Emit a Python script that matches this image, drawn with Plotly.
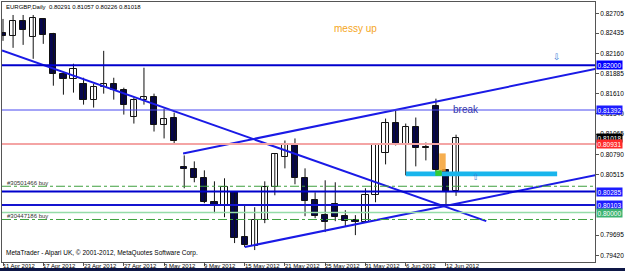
import plotly.graph_objects as go

# ---------------- data ----------------
bar_idx = list(range(46))
opens = [0.82439, 0.82398, 0.82601, 0.82385, 0.82628, 0.82425, 0.81884, 0.81817, 0.81749, 0.81533,
         0.81709, 0.81749, 0.81668, 0.81303, 0.81533, 0.81573, 0.81195, 0.81290, 0.80614, 0.80586,
         0.80465, 0.80140, 0.80086, 0.80275, 0.79667, 0.79545, 0.79897, 0.80343, 0.80749, 0.80911,
         0.80465, 0.80167, 0.79965, 0.80113, 0.79951, 0.79897, 0.79870, 0.80235, 0.80803, 0.81222,
         0.80924, 0.81168, 0.80884, 0.81452, 0.80573, 0.80291]
highs = [0.82628, 0.82682, 0.82682, 0.82682, 0.82641, 0.82439, 0.81890, 0.82020, 0.81830, 0.81749,
         0.82195, 0.81830, 0.81695, 0.81560, 0.81966, 0.81614, 0.81411, 0.81357, 0.80776, 0.80695,
         0.80573, 0.80424, 0.80465, 0.80289, 0.80113, 0.80073, 0.80424, 0.80795, 0.80978, 0.81006,
         0.80600, 0.80275, 0.80438, 0.80411, 0.80032, 0.79965, 0.80330, 0.80924, 0.81276, 0.81384,
         0.81208, 0.81290, 0.80951, 0.81546, 0.80580, 0.81057]
lows = [0.82331, 0.82236, 0.82276, 0.82087, 0.82290, 0.81722, 0.81600, 0.81628, 0.81465, 0.81425,
        0.81614, 0.81533, 0.81330, 0.81208, 0.81465, 0.81100, 0.81006, 0.80924, 0.80330, 0.80411,
        0.80127, 0.79992, 0.79937, 0.79586, 0.79532, 0.79491, 0.79856, 0.80235, 0.80600, 0.80384,
        0.79951, 0.79924, 0.79735, 0.79883, 0.79816, 0.79694, 0.79860, 0.80140, 0.80654, 0.80911,
        0.80505, 0.80627, 0.80708, 0.80505, 0.80086, 0.80226]
closes = [0.82398, 0.82601, 0.82479, 0.82641, 0.82412, 0.81884, 0.81817, 0.81952, 0.81533, 0.81709,
          0.81749, 0.81668, 0.81465, 0.81533, 0.81573, 0.81195, 0.81276, 0.80978, 0.80586, 0.80465,
          0.80140, 0.80086, 0.80343, 0.79654, 0.79559, 0.79897, 0.80343, 0.80789, 0.80911, 0.80465,
          0.80154, 0.79951, 0.79870, 0.79937, 0.79883, 0.79870, 0.80235, 0.80911, 0.81222, 0.80924,
          0.81168, 0.80870, 0.80870, 0.80573, 0.80275, 0.81018]

date_idx = [0, 4, 8, 12, 16, 20, 24, 28, 32, 36, 40, 44]
date_labels = ["11 Apr 2012", "17 Apr 2012", "23 Apr 2012", "27 Apr 2012", "3 May 2012", "9 May 2012",
               "15 May 2012", "21 May 2012", "25 May 2012", "31 May 2012", "6 Jun 2012", "12 Jun 2012"]

price_ticks = [0.82705, 0.82435, 0.82160, 0.81885, 0.81610, 0.81340, 0.81065, 0.80790,
               0.80515, 0.79695, 0.79420]

# horizontal levels: (price, color, width, dash)
hlines_price = [0.82000, 0.81392, 0.80931, 0.80285, 0.80103, 0.80000, 0.80357, 0.79906]
hlines_color = ["#0000cc", "#4848f0", "#f4a4a4", "#0000cc", "#1414d0", "#94dca8", "#3fa03f", "#3fa03f"]
hlines_width = [2, 1, 2, 2, 2, 1.5, 1, 1]
hlines_dash = ["solid", "solid", "solid", "solid", "solid", "solid", "dashdot", "dashdot"]

# price boxes on the right axis
box_price = [0.82000, 0.81392, 0.81018, 0.80931, 0.80285, 0.80103, 0.80000]
box_color = ["#0000ff", "#1c1cff", "#000000", "#ff2a2a", "#1c1cff", "#1c1cff", "#3cb371"]

# trend lines (bar index, price)
down_x = [-0.1, 48.0]
down_y = [0.82199, 0.79883]
chan_up_x = [17.89, 60.0]
chan_up_y = [0.80803, 0.81982]
chan_lo_x = [24.01, 60.0]
chan_lo_y = [0.79532, 0.80540]

# ---------------- figure ----------------
fig = go.Figure()

wx, wy = [], []
for i, h, l in zip(bar_idx, highs, lows):
    wx += [i, i, None]
    wy += [l, h, None]
fig.add_trace(go.Scatter(x=wx, y=wy, mode="lines", line=dict(color="#111111", width=1),
                         hoverinfo="skip", showlegend=False))

MIN_H = 0.00003
up_x = [i for i, o, c in zip(bar_idx, opens, closes) if c > o]
up_b = [o for o, c in zip(opens, closes) if c > o]
up_h = [max(c - o, MIN_H) for o, c in zip(opens, closes) if c > o]
dn_x = [i for i, o, c in zip(bar_idx, opens, closes) if c <= o]
dn_b = [c for o, c in zip(opens, closes) if c <= o]
dn_h = [max(o - c, MIN_H) for o, c in zip(opens, closes) if c <= o]

fig.add_trace(go.Bar(x=up_x, y=up_h, base=up_b, width=0.62,
                     marker=dict(color="#ffffff", line=dict(color="#111111", width=1)),
                     showlegend=False))
fig.add_trace(go.Bar(x=dn_x, y=dn_h, base=dn_b, width=0.62,
                     marker=dict(color="#05054e", line=dict(color="#111111", width=1)),
                     showlegend=False))

for tx, ty in [(down_x, down_y), (chan_up_x, chan_up_y), (chan_lo_x, chan_lo_y)]:
    fig.add_trace(go.Scatter(x=tx, y=ty, mode="lines", line=dict(color="#1a1ae6", width=2),
                             hoverinfo="skip", showlegend=False))

shapes = []
for p, c, w, d in zip(hlines_price, hlines_color, hlines_width, hlines_dash):
    shapes.append(dict(type="line", xref="paper", yref="y", x0=0, x1=1, y0=p, y1=p,
                       line=dict(color=c, width=w, dash=d)))
# cyan zone, orange box, green marker
shapes.append(dict(type="rect", xref="x", yref="y", x0=40.02, x1=55.04, y0=0.80492, y1=0.80559,
                   line=dict(width=0), fillcolor="#19b5ec"))
shapes.append(dict(type="rect", xref="x", yref="y", x0=43.33, x1=43.97, y0=0.80559, y1=0.80803,
                   line=dict(width=0), fillcolor="#f5a030", opacity=0.85))
shapes.append(dict(type="rect", xref="x", yref="y", x0=42.94, x1=43.58, y0=0.80498, y1=0.80573,
                   line=dict(width=0), fillcolor="#33cc33"))
# bottom dark strip
shapes.append(dict(type="rect", xref="paper", yref="paper", x0=-0.01, x1=1.06, y0=-0.036, y1=-0.023,
                   line=dict(width=0), fillcolor="#0e1746", layer="above"))

ann = []
FONT = "Liberation Sans"
ann.append(dict(xref="paper", yref="paper", x=0.0034, y=0.981, xanchor="left", yanchor="middle",
                text="EURGBP,Daily  0.80291 0.81057 0.80226 0.81018", showarrow=False,
                font=dict(family=FONT, size=6, color="#000000")))
ann.append(dict(xref="paper", yref="paper", x=0.0034, y=0.0345, xanchor="left", yanchor="middle",
                text="MetaTrader - Alpari UK, © 2001-2012, MetaQuotes Software Corp.", showarrow=False,
                font=dict(family=FONT, size=6.5, color="#000000")))
for i, t in zip(date_idx, date_labels):
    ann.append(dict(xref="x", yref="paper", x=i, y=-0.0153, xanchor="left", yanchor="middle",
                    xshift=-2, text=t, showarrow=False, font=dict(family=FONT, size=6, color="#000000")))
for p, c in zip(box_price, box_color):
    ann.append(dict(xref="paper", yref="y", x=1.0, y=p, xanchor="left", yanchor="middle", xshift=1,
                    text=f"{p:.5f}", showarrow=False, bgcolor=c, width=25, height=8, borderpad=0,
                    font=dict(family=FONT, size=6.5, color="#ffffff")))
ann.append(dict(xref="x", yref="y", x=34.98, y=0.82493, text="messy up", showarrow=False,
                font=dict(family=FONT, size=10, color="#f5a623")))
ann.append(dict(xref="x", yref="y", x=45.95, y=0.81397, text="break", showarrow=False,
                font=dict(family=FONT, size=10, color="#3434a8")))
ann.append(dict(xref="x", yref="y", x=46.99, y=0.80478, text="⇧", showarrow=False,
                font=dict(family="DejaVu Sans", size=9, color="#3a7bd5")))
ann.append(dict(xref="x", yref="y", x=55.04, y=0.82107, text="⇩", showarrow=False,
                font=dict(family="DejaVu Sans", size=9, color="#3a7bd5")))
ann.append(dict(xref="paper", yref="y", x=0.005, y=0.80404, xanchor="left", yanchor="middle",
                text="#30501466 buy", showarrow=False, font=dict(family=FONT, size=6, color="#333333")))
ann.append(dict(xref="paper", yref="y", x=0.005, y=0.79958, xanchor="left", yanchor="middle",
                text="#30447186 buy", showarrow=False, font=dict(family=FONT, size=6, color="#333333")))

fig.update_layout(
    width=625, height=271,
    margin=dict(l=2, r=27, t=1, b=9, pad=0),
    paper_bgcolor="#ffffff", plot_bgcolor="#ffffff",
    barmode="overlay", bargap=0,
    showlegend=False,
    shapes=shapes, annotations=ann,
    xaxis=dict(range=[-0.1, 58.8], showgrid=False, zeroline=False, showline=True, mirror=True,
               linecolor="#555555", linewidth=1, ticks="outside", ticklen=3, tickcolor="#555555",
               tickvals=date_idx, showticklabels=False, fixedrange=True),
    yaxis=dict(range=[0.79329, 0.82858], side="right", showgrid=False, zeroline=False, showline=True,
               mirror=True, linecolor="#555555", linewidth=1, ticks="outside", ticklen=3,
               tickcolor="#555555", tickvals=price_ticks, ticktext=[f"{v:.5f}" for v in price_ticks],
               tickfont=dict(family=FONT, size=6.5, color="#000000"), ticklabelstandoff=0,
               fixedrange=True),
)

fig.write_html("out.html")
